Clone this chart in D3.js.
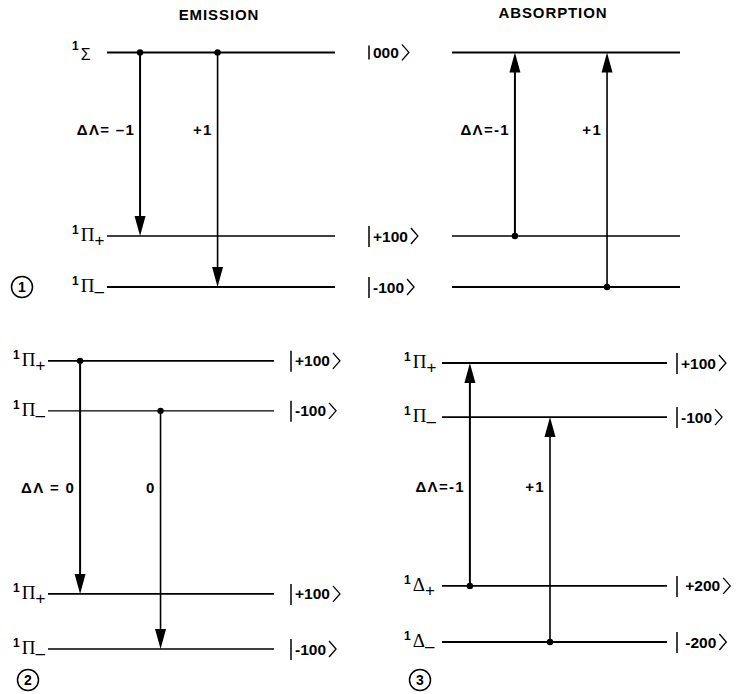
<!DOCTYPE html>
<html>
<head>
<meta charset="utf-8">
<script src="https://cdn.jsdelivr.net/npm/d3@7"></script>
<style>
  body { margin: 0; background: #fff; }
  svg { display: block; font-family: "Liberation Sans", Arial, sans-serif; }
  .title { font-size: 15px; font-weight: bold; letter-spacing: 0.9px; }
  .dl { font-size: 15px; font-weight: bold; letter-spacing: 1.3px; }
  .ket { font-size: 15.5px; font-weight: bold; }
  .term { font-family: "Liberation Serif", serif; font-size: 19px; }
  .sup { font-family: "Liberation Sans", Arial, sans-serif; font-size: 12px; font-weight: bold; }
</style>
</head>
<body>
<div id="chart"></div>
<script>
// energy levels (arbitrary units, 0 = lowest level of each panel)
const levelsTop = [
  { term: "Σ", sub: "",  ket: "000",  E: 4.6 },
  { term: "Π", sub: "+", ket: "+100", E: 1.0 },
  { term: "Π", sub: "–", ket: "-100", E: 0.0 }
];
const levelsPi = [
  { term: "Π", sub: "+", ket: "+100", E: 5.65 },
  { term: "Π", sub: "–", ket: "-100", E: 4.67 },
  { term: "Π", sub: "+", ket: "+100", E: 1.08 },
  { term: "Π", sub: "–", ket: "-100", E: 0.0 }
];
const levelsDelta = [
  { term: "Π", sub: "+", ket: "+100", E: 5.47 },
  { term: "Π", sub: "–", ket: "-100", E: 4.41 },
  { term: "Δ", sub: "+", ket: " +200", E: 1.1 },
  { term: "Δ", sub: "–", ket: " -200", E: 0.0 }
];

// transitions: from level index -> to level index, position along the level line
const emissionTop = [
  { from: 0, to: 1, pos: 0.145, label: "ΔΛ= –1" },
  { from: 0, to: 2, pos: 0.485, label: "+1" }
];
const absorptionTop = [
  { from: 1, to: 0, pos: 0.276, label: "ΔΛ=-1" },
  { from: 2, to: 0, pos: 0.68, label: "+1" }
];
const emissionPi = [
  { from: 0, to: 2, pos: 0.142, label: "ΔΛ = 0" },
  { from: 1, to: 3, pos: 0.498, label: "0" }
];
const absorptionDelta = [
  { from: 2, to: 0, pos: 0.124, label: "ΔΛ=-1" },
  { from: 3, to: 1, pos: 0.48, label: "+1" }
];

const W = 741, H = 694;
const unit = 51; // px per energy unit

const svg = d3.select("#chart")
    .append("svg")
    .attr("width", W)
    .attr("height", H);

// titles
svg.append("text").attr("class", "title")
    .attr("x", 219).attr("y", 20).attr("text-anchor", "middle")
    .text("EMISSION");
svg.append("text").attr("class", "title")
    .attr("x", 553).attr("y", 18).attr("text-anchor", "middle")
    .text("ABSORPTION");

function draw_panel(opt) {
    const x = d3.scaleLinear().domain([0, 1]).range(opt.xRange);
    const maxE = d3.max(opt.levels, d => d.E);
    const y = d3.scaleLinear().domain([0, maxE]).range([opt.base, opt.base - maxE * unit]);
    const g = svg.append("g");

    // level lines
    g.selectAll("line.level")
        .data(opt.levels)
        .join("line")
        .attr("class", "level")
        .attr("x1", x(0)).attr("x2", x(1))
        .attr("y1", d => y(d.E)).attr("y2", d => y(d.E))
        .attr("stroke", "#000")
        .attr("stroke-width", (d, i) => opt.widths ? opt.widths[i] : 1.7);

    // term symbols on the left
    if (opt.termX != null) {
        const t = g.selectAll("text.term")
            .data(opt.levels)
            .join("text")
            .attr("class", "term")
            .attr("x", opt.termX)
            .attr("y", d => y(d.E) + 5);
        t.append("tspan").attr("class", "sup").attr("dy", -7).text("1");
        t.append("tspan").attr("dx", 2)
            .attr("dy", d => d.term === "Σ" ? 10 : 7)
            .attr("font-family", d => d.term === "Σ" ? "Liberation Sans, Arial, sans-serif" : null)
            .attr("font-size", d => d.term === "Σ" ? 16 : 19)
            .text(d => d.term);
        t.append("tspan").attr("font-family", "Liberation Sans, Arial, sans-serif")
            .attr("font-size", 17)
            .attr("dy", 5)
            .text(d => d.sub);
    }

    // kets
    if (opt.ketX != null) {
        const k = g.selectAll("g.ket")
            .data(opt.levels)
            .join("g")
            .attr("class", "ket")
            .attr("transform", d => `translate(${opt.ketX},${y(d.E)})`);
        k.append("line")
            .attr("x1", 0).attr("x2", 0)
            .attr("y1", d => d.ket === "000" ? -7 : -10)
            .attr("y2", d => d.ket === "000" ? 7 : 11)
            .attr("stroke", "#000")
            .attr("stroke-width", 1.5);
        k.append("text")
            .attr("class", "ket")
            .attr("x", 4)
            .attr("y", 5.5)
            .attr("xml:space", "preserve")
            .text(d => d.ket);
        // closing angle bracket
        k.append("path")
            .attr("d", function (d) {
                const w = this.parentNode.querySelector("text").getComputedTextLength();
                const x0 = 4 + w + 3;
                return `M${x0},-8 L${x0 + 7},0 L${x0},8`;
            })
            .attr("fill", "none")
            .attr("stroke", "#000")
            .attr("stroke-width", 1.3);
    }

    // transitions
    const tr = g.selectAll("g.tr")
        .data(opt.transitions)
        .join("g")
        .attr("class", "tr");
    tr.append("line")
        .attr("x1", d => x(d.pos)).attr("x2", d => x(d.pos))
        .attr("y1", d => y(opt.levels[d.from].E))
        .attr("y2", d => {
            const y1 = y(opt.levels[d.from].E), y2 = y(opt.levels[d.to].E);
            return y2 + (y1 > y2 ? 15 : -15);
        })
        .attr("stroke", "#000")
        .attr("stroke-width", (d, i) => i === 0 ? 2 : 1.6);
    tr.append("circle")
        .attr("cx", d => x(d.pos))
        .attr("cy", d => y(opt.levels[d.from].E))
        .attr("r", 3.2)
        .attr("fill", "#000");
    tr.append("path")
        .attr("d", d => {
            const xa = x(d.pos), yt = y(opt.levels[d.to].E);
            const dir = y(opt.levels[d.from].E) > yt ? 1 : -1;
            return `M${xa},${yt} L${xa - 5.5},${yt + dir * 20} L${xa + 5.5},${yt + dir * 20} Z`;
        })
        .attr("fill", "#000");
    tr.append("text")
        .attr("class", "dl")
        .attr("x", d => x(d.pos) - 5)
        .attr("y", y(opt.labelE) + 5)
        .attr("text-anchor", "end")
        .attr("xml:space", "preserve")
        .text(d => d.label);

    // circled panel number
    if (opt.num) {
        g.append("circle")
            .attr("cx", opt.num.x).attr("cy", opt.num.y).attr("r", 10.5)
            .attr("fill", "none").attr("stroke", "#000").attr("stroke-width", 1.5);
        g.append("text")
            .attr("x", opt.num.x).attr("y", opt.num.y + 5)
            .attr("text-anchor", "middle")
            .attr("font-size", 14).attr("font-weight", "bold")
            .text(opt.num.n);
    }
}

draw_panel({
    levels: levelsTop, transitions: emissionTop,
    xRange: [107, 335], base: 287, termX: 72, labelE: 3.08,
    widths: [2, 1.3, 2],
    num: { x: 22, y: 287, n: "1" }
});
draw_panel({
    levels: levelsTop, transitions: absorptionTop,
    xRange: [452, 680], base: 287, ketX: 369, labelE: 3.08,
    widths: [2, 1.5, 2]
});
draw_panel({
    levels: levelsPi, transitions: emissionPi,
    xRange: [48, 274], base: 649, termX: 13, ketX: 291, labelE: 3.16,
    widths: [1.8, 1.4, 1.8, 1.6],
    num: { x: 28, y: 680, n: "2" }
});
draw_panel({
    levels: levelsDelta, transitions: absorptionDelta,
    xRange: [442, 667], base: 642, termX: 404, ketX: 677, labelE: 3.04,
    widths: [2, 1.8, 1.6, 1.8],
    num: { x: 420, y: 680, n: "3" }
});
</script>
</body>
</html>
